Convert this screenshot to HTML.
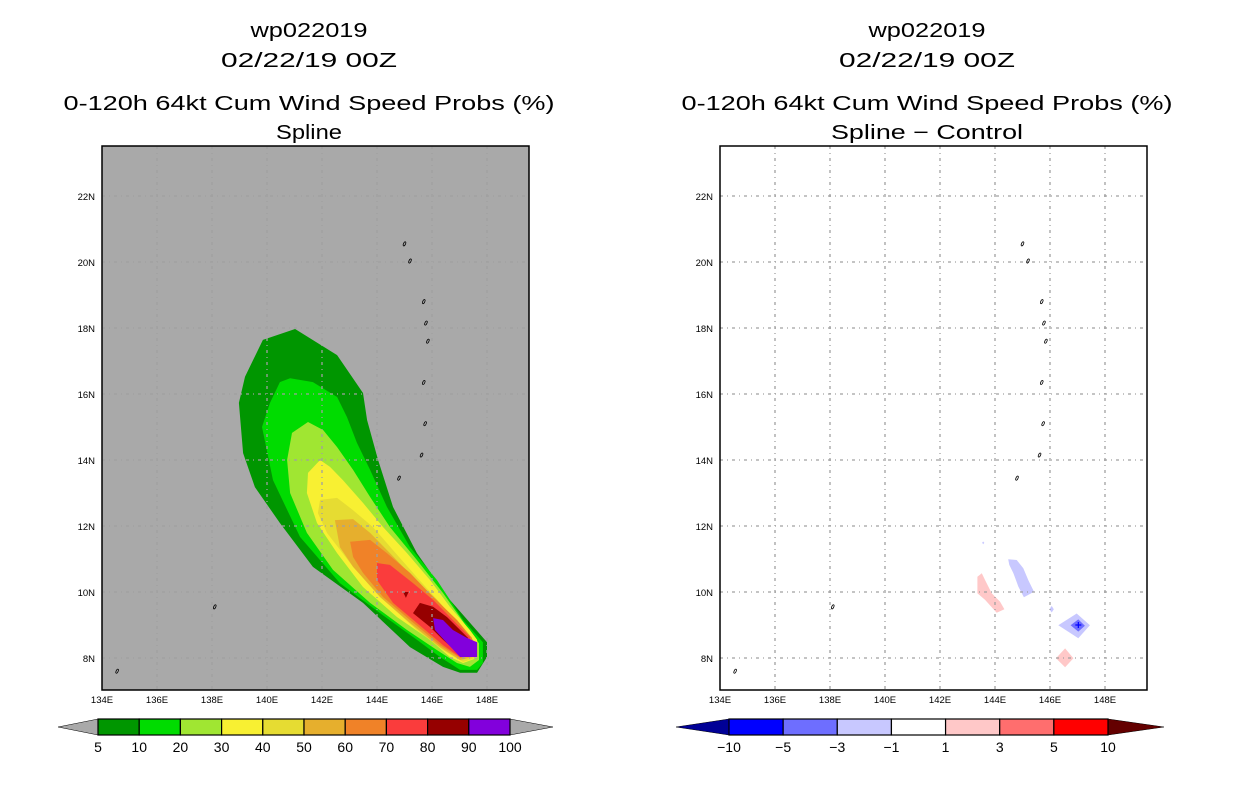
<!DOCTYPE html>
<html><head><meta charset="utf-8"><style>
body{margin:0;background:#fff;width:1236px;height:800px;overflow:hidden}
svg text{font-family:"Liberation Sans",sans-serif}
</style></head><body>
<svg id="svg" width="1236" height="800" xmlns="http://www.w3.org/2000/svg"></svg>
<script>
// ---- data ----
const lonTicks=[134,136,138,140,142,144,146,148];
const latTicks=[8,10,12,14,16,18,20,22];
const probLevels=[5,10,20,30,40,50,60,70,80,90,100];
const probColors=['#009600','#00dc00','#a0e632','#f8f032','#e6dc32','#e6af2d','#f08228','#fa3c3c','#960000','#8200dc'];
const diffLevels=['-10','-5','-3','-1','1','3','5','10'];
const diffColors=['#0000ff','#6e6eff','#c8c8ff','#ffffff','#ffc8c8','#ff6e6e','#ff0000'];
const c5=[[141.02,17.97],[142.55,17.18],[143.49,16.03],[143.64,15.21],[144.04,14.0],[144.58,12.58],[145.45,11.18],[146.65,9.76],[148.0,8.48],[148.0,8.03],[147.64,7.55],[147.02,7.55],[146.4,7.73],[145.2,8.33],[143.49,9.67],[141.67,10.76],[140.47,12.09],[139.56,13.18],[139.13,14.21],[138.98,15.73],[139.2,16.52],[139.85,17.64]];
const c10=[[140.84,16.48],[141.67,16.36],[142.55,15.91],[142.91,15.30],[143.27,14.52],[143.75,13.70],[144.36,12.58],[145.2,11.36],[146.18,10.36],[147.13,9.15],[147.85,8.48],[147.85,7.85],[147.64,7.64],[147.02,7.64],[146.29,8.03],[145.45,8.55],[144.11,9.36],[142.65,10.27],[141.2,11.67],[140.22,13.39],[139.82,15.0],[140.11,15.73],[140.47,16.36]];
const c20=[[141.49,15.15],[142.04,14.91],[142.55,14.39],[143.13,13.70],[143.75,12.88],[144.47,11.97],[145.45,10.97],[146.4,9.97],[147.27,8.94],[147.71,8.45],[147.71,7.94],[147.38,7.73],[146.91,7.85],[146.18,8.24],[145.09,8.85],[143.75,9.67],[142.4,10.67],[141.45,11.79],[140.84,13.0],[140.73,14.0],[140.91,14.82]];
const c30=[[141.93,14.0],[142.29,13.79],[142.76,13.39],[143.49,12.7],[144.22,11.97],[145.09,11.18],[145.93,10.36],[146.65,9.55],[147.38,8.85],[147.64,8.55],[147.64,8.0],[147.13,7.85],[146.65,8.03],[145.93,8.55],[144.73,9.24],[143.49,10.15],[142.55,11.18],[141.82,12.09],[141.45,13.0],[141.49,13.61]];
const c40=[[141.93,12.79],[142.55,12.85],[143.13,12.48],[143.85,11.97],[144.58,11.27],[145.45,10.45],[146.29,9.67],[147.02,8.94],[147.56,8.48],[147.56,8.0],[147.13,7.88],[146.4,8.24],[145.45,8.85],[144.36,9.67],[143.13,10.76],[142.18,11.79],[141.85,12.39]];
const c50=[[142.47,12.18],[143.13,12.21],[143.75,11.79],[144.47,11.18],[145.31,10.45],[146.18,9.76],[147.02,9.0],[147.49,8.55],[147.49,8.03],[147.02,7.94],[146.29,8.33],[145.2,9.06],[144.11,9.85],[143.13,10.76],[142.65,11.36]];
const c60=[[143.02,11.52],[143.75,11.58],[144.36,11.18],[145.2,10.58],[146.04,9.85],[146.91,9.15],[147.45,8.61],[147.45,8.09],[147.02,8.0],[146.29,8.39],[145.2,9.15],[144.22,9.85],[143.49,10.58],[143.13,11.06]];
const c70=[[144.0,10.88],[144.47,10.82],[145.31,10.27],[146.04,9.76],[146.76,9.15],[147.38,8.64],[147.38,8.15],[147.02,8.03],[146.4,8.39],[145.45,9.06],[144.58,9.67],[144.0,10.36]];
const c80=[[145.56,9.67],[146.04,9.55],[146.55,9.24],[147.02,8.85],[147.31,8.61],[147.31,8.18],[147.02,8.09],[146.4,8.55],[145.93,8.94],[145.31,9.36]];
const c80b=[[144.95,10.0],[145.15,10.0],[145.05,9.82]];
const c90=[[146.04,9.21],[146.4,9.15],[146.76,8.85],[147.27,8.61],[147.64,8.48],[147.64,8.03],[147.02,8.03],[146.55,8.45],[146.11,8.85]];
const probContours=[c5,c10,c20,c30,c40,c50,c60,c70,c80,c80b,c90];
const probContourLevel=[0,1,2,3,4,5,6,7,8,8,9];
const dPink1=[[143.36,10.46],[143.52,10.57],[143.64,10.36],[143.88,9.96],[144.18,9.71],[144.34,9.48],[144.06,9.37],[143.64,9.76],[143.36,9.96]];
const dBlue1=[[144.48,10.99],[144.79,10.97],[145.03,10.72],[145.21,10.36],[145.42,10.01],[145.05,9.84],[144.85,10.16],[144.67,10.57],[144.52,10.82]];
const dBlue2=[[146.30,8.99],[146.97,9.35],[147.45,8.99],[147.03,8.60]];
const dBlue3=[[146.75,8.99],[147.03,9.17],[147.27,8.98],[147.03,8.80]];
const dBlueSmall=[[145.98,9.48],[146.06,9.58],[146.14,9.48],[146.06,9.38]];
const dBlueTiny=[[143.53,11.49],[143.57,11.53],[143.61,11.49],[143.57,11.45]];
const dPink2=[[146.22,7.99],[146.55,8.29],[146.85,7.99],[146.55,7.72]];
const diffShapes=[dPink1,dBlue1,dBlue2,dBlue3,dBlueSmall,dBlueTiny,dPink2];
const diffShapeClass=[4,2,2,1,2,2,4];
const islands=[[145.0,20.55],[145.2,20.03],[145.7,18.8],[145.78,18.15],[145.85,17.6],[145.7,16.35],[145.75,15.1],[145.62,14.15],[144.8,13.45],[138.1,9.55],[134.55,7.6]];

// ---- drawing ----
const NS='http://www.w3.org/2000/svg';
const svg=document.getElementById('svg');
function el(tag,attrs,parent){const e=document.createElementNS(NS,tag);for(const k in attrs)e.setAttribute(k,attrs[k]);(parent||svg).appendChild(e);return e;}
const Y0=146,Y1=690,W=427;
function yOf(lat){return 196-(lat-22)*33;}
function mkX(x0){return lon=>x0+(lon-134)*27.5;}
function pts(arr,xf){return arr.map(p=>xf(p[0]).toFixed(1)+','+yOf(p[1]).toFixed(1)).join(' ');}

function titles(cx,lines,ys,lens,prefix){
  lines.forEach((t,i)=>{const e=el('text',{x:cx,y:ys[i],'text-anchor':'middle','font-size':20,textLength:lens[i],lengthAdjust:'spacingAndGlyphs',fill:'#000'});e.textContent=t;
  
  });
}
function panel(x0,name,fillBg,drawFn){
  const g=el('g',{});
  
  
  const xf=mkX(x0);
  const bg=el('rect',{x:x0,y:Y0,width:W,height:Y1-Y0,fill:fillBg},g);
  
  
  drawFn(g,xf);
  const grid=el('g',{stroke:'#a0a0a0','stroke-width':1.3,'stroke-dasharray':'3,4,1,4',fill:'none'},g);
  
  
  lonTicks.slice(1).forEach(l=>el('line',{x1:xf(l),x2:xf(l),y1:Y0,y2:Y1},grid));
  latTicks.forEach(l=>el('line',{x1:x0,x2:x0+W,y1:yOf(l),y2:yOf(l)},grid));
  islands.forEach(p=>{const c=el('ellipse',{cx:xf(p[0]),cy:yOf(p[1]),rx:1,ry:2.2,fill:'none',stroke:'#000','stroke-width':0.8,transform:'rotate(25 '+xf(p[0])+' '+yOf(p[1])+')'},g);
    
    });
  const fr=el('rect',{x:x0,y:Y0,width:W,height:Y1-Y0,fill:'none',stroke:'#000','stroke-width':1.5},g);
  
  
  lonTicks.forEach(l=>{const t=el('text',{x:xf(l),y:703,'text-anchor':'middle','font-size':9.5},g);t.textContent=l+'E';
    
    });
  latTicks.forEach(l=>{const t=el('text',{x:x0-7,y:yOf(l)+4,'text-anchor':'end','font-size':9.5},g);t.textContent=l+'N';
    
    });
}
function colorbar(x0,x1,xa0,xa1,colors,labels,lc,rc,name){
  const g=el('g',{});
  
  
  const y0=719,y1=735,ym=727,w=(x1-x0)/colors.length;
  const a=el('polygon',{points:`${xa0},${ym} ${x0},${y0} ${x0},${y1}`,fill:lc,stroke:'#000','stroke-width':0.5},g);
  
  
  const b=el('polygon',{points:`${xa1},${ym} ${x1},${y0} ${x1},${y1}`,fill:rc,stroke:'#000','stroke-width':0.5},g);
  
  
  colors.forEach((c,i)=>{const r=el('rect',{x:x0+i*w,y:y0,width:w,height:y1-y0,fill:c,stroke:'#000','stroke-width':1.2},g);
    
    });
  labels.forEach((l,i)=>{const t=el('text',{x:x0+i*w,y:752,'text-anchor':'middle','font-size':14},g);t.textContent=String(l).replace('-','\u2212');
    
    });
}
titles(309,['wp022019','02/22/19 00Z','0-120h 64kt Cum Wind Speed Probs (%)','Spline'],[37,67,110,139],[117,176,491,66],'left');
titles(927,['wp022019','02/22/19 00Z','0-120h 64kt Cum Wind Speed Probs (%)','Spline \u2212 Control'],[37,67,110,139],[117,176,491,192],'right');
panel(102,'left-map',"#a9a9a9",(g,xf)=>{
  probContours.forEach((c,i)=>{const p=el('polygon',{points:pts(c,xf),fill:probColors[probContourLevel[i]]},g);
    
    });
});
panel(720,'right-map',"#ffffff",(g,xf)=>{
  diffShapes.forEach((c,i)=>{const p=el('polygon',{points:pts(c,xf),fill:diffColors[diffShapeClass[i]]},g);
    
    });
  const cx=xf(147.03),cy=yOf(9.0);
  const cr=el('path',{d:`M${cx-3},${cy}H${cx+3}M${cx},${cy-3}V${cy+3}`,stroke:'#0000ff','stroke-width':1.2},g);
  
  
});
colorbar(98,510,58,553,probColors,probLevels,'#a9a9a9','#a9a9a9','prob-colorbar');
colorbar(729,1108,676,1164,diffColors,diffLevels,'#000096','#640000','diff-colorbar');
</script>
</body></html>
